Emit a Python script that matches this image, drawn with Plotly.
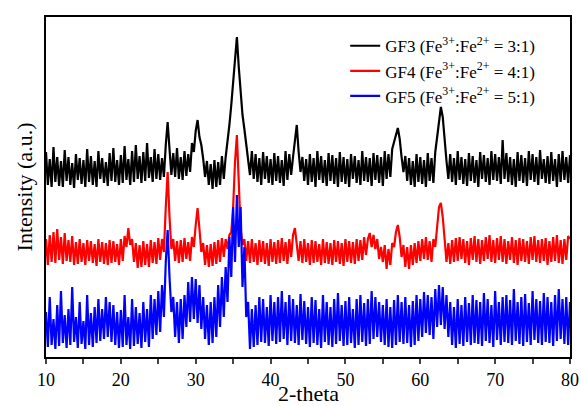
import numpy as np
import plotly.graph_objects as go

# 2-theta sampling grid (deg), 0.25 deg step
two_theta = np.arange(10, 80.001, 0.25)

# intensities (a.u., curves already stacked)
gf3 = [
    205, 172, 198, 170, 210, 175, 200, 171, 196, 170, 207, 176, 200, 172, 194, 169,
    203, 177, 199, 173, 197, 170, 208, 175, 201, 172, 196, 170, 206, 178, 199, 174,
    195, 171, 204, 176, 209, 175, 197, 172, 202, 174, 211, 177, 198, 172, 206, 175,
    212, 178, 201, 174, 205, 176, 214, 179, 200, 175, 208, 178, 203, 177, 199, 180,
    212, 235, 208, 182, 204, 180, 209, 178, 200, 177, 206, 181, 203, 185, 214, 205,
    226, 237, 220, 212, 198, 180, 196, 172, 193, 168, 197, 170, 195, 172, 201, 178,
    200, 215, 232, 252, 275, 300, 320, 290, 262, 242, 228, 212, 200, 182, 206, 178,
    203, 175, 199, 172, 205, 178, 201, 174, 198, 172, 204, 176, 201, 174, 197, 171,
    206, 177, 203, 182, 200, 220, 232, 205, 185, 200, 176, 198, 172, 203, 175, 199,
    170, 206, 177, 201, 174, 197, 171, 204, 176, 202, 173, 199, 170, 205, 175, 200,
    173, 198, 170, 203, 178, 201, 174, 197, 172, 206, 176, 200, 175, 199, 171, 204,
    177, 202, 174, 200, 171, 206, 178, 203, 180, 208, 214, 222, 229, 218, 200, 185,
    201, 176, 199, 172, 196, 170, 203, 175, 200, 173, 197, 170, 204, 176, 199, 174,
    205, 222, 238, 250, 240, 215, 196, 178, 203, 175, 199, 172, 206, 177, 200, 173,
    198, 171, 204, 176, 201, 174, 197, 170, 205, 178, 202, 175, 199, 172, 206, 177,
    203, 176, 200, 173, 217, 178, 204, 175, 200, 172, 198, 170, 205, 176, 202, 174,
    199, 171, 206, 177, 203, 175, 200, 172, 207, 178, 198, 174, 201, 173, 205, 176,
    198, 170, 203, 175, 206, 177, 200, 174, 202,
]
gf4 = [
    118, 92, 122, 95, 125, 94, 128, 97, 120, 93, 124, 96, 117, 95, 121, 92,
    115, 93, 118, 95, 114, 92, 117, 96, 116, 94, 113, 91, 118, 95, 115, 93,
    114, 92, 117, 94, 116, 95, 113, 92, 118, 96, 121, 110, 129, 112, 118, 95,
    114, 89, 112, 90, 116, 92, 113, 90, 117, 94, 115, 93, 119, 97, 118, 105,
    150, 185, 140, 108, 118, 96, 116, 94, 117, 95, 119, 98, 115, 96, 120, 110,
    132, 149, 128, 105, 114, 92, 112, 90, 113, 91, 115, 93, 117, 95, 119, 100,
    118, 108, 122, 125, 150, 195, 222, 170, 128, 112, 118, 96, 116, 94, 118, 95,
    114, 92, 117, 95, 116, 93, 114, 91, 118, 95, 115, 93, 117, 94, 119, 96,
    115, 93, 118, 100, 122, 129, 112, 96, 116, 94, 118, 95, 114, 92, 117, 94,
    116, 95, 113, 92, 118, 94, 115, 93, 114, 92, 117, 95, 116, 93, 114, 91,
    118, 95, 116, 94, 115, 93, 118, 96, 117, 97, 120, 102, 118, 124, 110, 122,
    108, 118, 98, 110, 95, 112, 88, 108, 92, 114, 110, 125, 132, 120, 100, 112,
    90, 110, 88, 112, 92, 114, 94, 116, 96, 118, 98, 120, 97, 116, 95, 118,
    110, 130, 150, 154, 140, 118, 95, 114, 93, 117, 95, 119, 96, 120, 98, 118,
    94, 116, 92, 119, 97, 121, 95, 118, 93, 117, 96, 120, 98, 122, 95, 117,
    94, 119, 97, 121, 95, 118, 93, 116, 97, 120, 94, 117, 92, 119, 96, 118,
    95, 116, 93, 120, 97, 121, 95, 117, 94, 118, 96, 119, 92, 116, 95, 120,
    96, 122, 94, 117, 93, 118, 97, 121, 118,
]
gf5 = [
    45, 10, 60, 12, 38, 8, 52, 11, 66, 14, 42, 9, 48, 12, 70, 15,
    40, 9, 55, 13, 36, 8, 62, 12, 44, 10, 50, 14, 58, 16, 48, 18,
    60, 20, 55, 15, 52, 12, 45, 9, 47, 10, 62, 12, 40, 8, 58, 11,
    50, 13, 44, 9, 55, 15, 48, 10, 62, 18, 58, 22, 66, 25, 72, 40,
    95, 127, 80, 45, 60, 20, 55, 14, 58, 18, 62, 30, 75, 35, 80, 38,
    78, 34, 72, 28, 60, 18, 52, 12, 55, 14, 60, 20, 72, 30, 80, 40,
    90, 55, 120, 80, 150, 95, 162, 110, 150, 70, 110, 40, 55, 8, 48, 10,
    52, 12, 60, 15, 58, 14, 50, 11, 62, 16, 55, 13, 60, 15, 66, 18,
    55, 12, 62, 16, 58, 14, 52, 12, 63, 17, 56, 13, 50, 10, 60, 14,
    57, 12, 48, 9, 62, 15, 55, 12, 50, 10, 58, 13, 64, 16, 52, 11,
    56, 12, 60, 14, 48, 9, 58, 12, 62, 15, 54, 11, 58, 13, 66, 18,
    60, 20, 55, 15, 52, 12, 58, 10, 50, 9, 57, 12, 62, 15, 55, 13,
    60, 14, 52, 10, 56, 12, 62, 16, 58, 20, 65, 24, 62, 22, 60, 18,
    68, 30, 72, 32, 70, 28, 62, 20, 55, 12, 50, 9, 58, 13, 52, 11,
    60, 15, 54, 12, 62, 14, 57, 13, 55, 11, 64, 16, 58, 14, 52, 10,
    66, 17, 55, 12, 60, 15, 62, 14, 57, 12, 68, 16, 55, 13, 60, 11,
    63, 15, 54, 12, 66, 17, 58, 14, 56, 12, 64, 15, 60, 14, 55, 11,
    62, 16, 68, 18, 58, 13, 60, 12, 55,
]

names = [
    "GF3 (Fe<sup>3+</sup>:Fe<sup>2+</sup> = 3:1)",
    "GF4 (Fe<sup>3+</sup>:Fe<sup>2+</sup> = 4:1)",
    "GF5 (Fe<sup>3+</sup>:Fe<sup>2+</sup> = 5:1)",
]
colors = ["#000000", "#ff0000", "#0000ff"]

font = "Liberation Serif"

fig = go.Figure()
for i, (ys, name, c) in enumerate(zip([gf3, gf4, gf5], names, colors)):
    fig.add_trace(go.Scatter(x=two_theta, y=ys, mode="lines", name=name,
                             legendgroup="g%d" % i,
                             line=dict(color=c, width=2.2)))

fig.update_layout(
    width=581, height=406,
    margin=dict(l=46, r=11, t=17, b=49),
    plot_bgcolor="white", paper_bgcolor="white",
    font=dict(family=font, size=17, color="black"),
    showlegend=True,
    legend=dict(x=0.571, y=0.967, xanchor="left", yanchor="top",
                bgcolor="rgba(0,0,0,0)", font=dict(family=font, size=17),
                tracegroupgap=0),
)
fig.update_xaxes(
    range=[10, 80], dtick=10, ticks="outside", ticklen=5, tickwidth=1.5,
    minor=dict(dtick=5, ticks="outside", ticklen=5, tickwidth=1.5),
    showline=True, linewidth=2, linecolor="black", mirror=True,
    showgrid=False, zeroline=False, automargin=False,
    tickfont=dict(family=font, size=18),
)
fig.update_yaxes(
    range=[0, 340], showticklabels=False, ticks="",
    showline=True, linewidth=2, linecolor="black", mirror=True,
    showgrid=False, zeroline=False, automargin=False,
    title=dict(text="Intensity (a.u.)", font=dict(family=font, size=22), standoff=5),
)
# x title placed by hand so it sits just under the tick labels
fig.add_annotation(text="2-theta", xref="paper", yref="paper", x=0.5, y=-0.106,
                   xanchor="center", yanchor="middle", showarrow=False,
                   font=dict(family=font, size=22))

# drop the default page margin so the 581x406 figure fills the window exactly
fig.write_html("out.html", config={"displayModeBar": False},
               post_script="document.body.style.margin='0px';")
